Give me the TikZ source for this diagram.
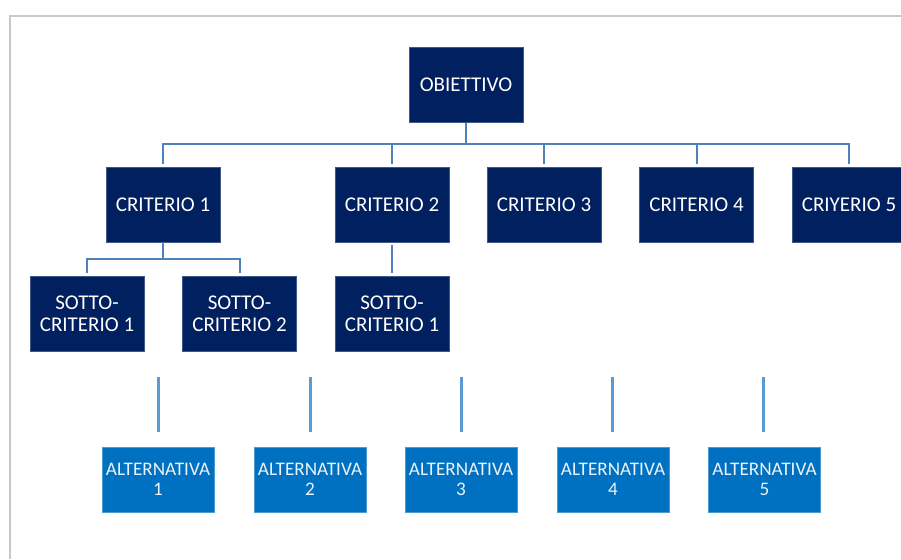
\documentclass[tikz,border=0pt]{standalone}
\usepackage{fontspec}
\setmainfont{Carlito}
\definecolor{navybox}{HTML}{002060}
\definecolor{altblue}{HTML}{0070C0}
\definecolor{connblue}{HTML}{4F81BD}
\definecolor{altline}{HTML}{5B9BD5}
\definecolor{framegray}{HTML}{C8C8C8}
\tikzset{
  mainbox/.style={fill=navybox, draw=navybox!75!white, line width=0.4pt,
    minimum width=114pt, minimum height=75pt, inner sep=0pt, text=white,
    font=\fontsize{21}{22}\selectfont, align=center},
  altbox/.style={fill=altblue, draw=altblue!70!white, line width=0.4pt,
    minimum width=112pt, minimum height=65pt, inner sep=0pt, text=white!92!altblue,
    font=\fontsize{19.2}{19.5}\selectfont, align=center},
  conn/.style={draw=connblue, line width=2pt},
  altconn/.style={draw=altline, line width=3pt},
}
\begin{document}
\begin{tikzpicture}[x=1pt,y=-1pt]
\clip (0,0) rectangle (901,559);
\fill[white] (0,0) rectangle (901,559);
\draw[framegray, line width=1.6pt] (10,559) -- (10,16) -- (901,16);

\node[mainbox] (obj) at (466,85) {OBIETTIVO};
\node[mainbox] (c1) at (163,204.5) {CRITERIO 1};
\node[mainbox] (c2) at (392,204.5) {CRITERIO 2};
\node[mainbox] (c3) at (544,204.5) {CRITERIO 3};
\node[mainbox] (c4) at (696.5,204.5) {CRITERIO 4};
\node[mainbox] (c5) at (849,204.5) {CRIYERIO 5};

\node[mainbox] (s1) at (87,314) {SOTTO-\\CRITERIO 1};
\node[mainbox] (s2) at (239.5,314) {SOTTO-\\CRITERIO 2};
\node[mainbox] (s3) at (392,314) {SOTTO-\\CRITERIO 1};

\coordinate (hub) at (466,144);
\coordinate (c1hub) at (163,259);

\draw[conn] (obj.south) -- (hub);
\draw[conn, shorten <=3pt, shorten >=3pt] (c1.north) |- (hub) -| (c5.north);
\draw[conn, shorten <=3pt] (c2.north) -- (c2.north |- hub);
\draw[conn, shorten <=3pt] (c3.north) -- (c3.north |- hub);
\draw[conn, shorten <=3pt] (c4.north) -- (c4.north |- hub);

\draw[conn] (c1.south) -- (c1hub);
\draw[conn, shorten <=3pt, shorten >=3pt] (s1.north) |- (c1hub) -| (s2.north);
\draw[conn, shorten <=3pt, shorten >=3pt] (c2.south) -- (s3.north);

\node[altbox] (a1) at (158,479.5) {ALTERNATIVA\\1};
\node[altbox] (a2) at (310,479.5) {ALTERNATIVA\\2};
\node[altbox] (a3) at (461,479.5) {ALTERNATIVA\\3};
\node[altbox] (a4) at (613,479.5) {ALTERNATIVA\\4};
\node[altbox] (a5) at (764.5,479.5) {ALTERNATIVA\\5};

\foreach \i/\x in {1/158,2/310,3/461,4/612,5/763}{
  \coordinate (t\i) at (\x,377);
  \coordinate (b\i) at (\x,432);
  \draw[altconn] (t\i) -- (b\i);
}
\end{tikzpicture}
\end{document}
